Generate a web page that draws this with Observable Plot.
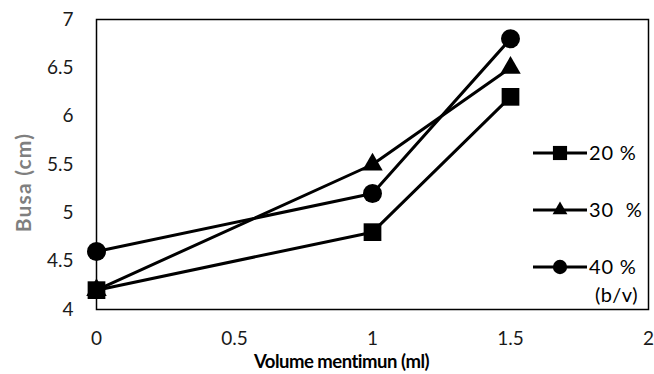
<!DOCTYPE html>
<html><head><meta charset="utf-8">
<script src="https://cdn.jsdelivr.net/npm/d3@7"></script>
<script src="https://cdn.jsdelivr.net/npm/@observablehq/plot@0.6"></script>
<style>
body{margin:0;background:#fff;}
#chart{position:relative;width:654px;height:374px;font-family:Lato,"Open Sans",sans-serif;}
#legend{position:absolute;left:0;top:0;pointer-events:none;}
</style></head><body><div id="chart"></div>
<script>
const volume = [0, 1, 1.5];
const seriesNames = ["20 %", "30  %", "40 %"];
const busa20 = [4.2, 4.8, 6.2];
const busa30 = [4.2, 5.5, 6.5];
const busa40 = [4.6, 5.2, 6.8];
const yTicks = [4, 4.5, 5, 5.5, 6, 6.5, 7];
const xTicks = [0, 0.5, 1, 1.5, 2];
const symbols = ["square", "triangle", "circle"];
const legendNote = "(b/v)";

const seriesValues = [busa20, busa30, busa40];
const rows = seriesValues.flatMap((vals, i) =>
  vals.map((v, j) => ({series: seriesNames[i], volume: volume[j], busa: v})));

const markerR = {square: 10, triangle: 7.6, circle: 9.5};

const plot = Plot.plot({
  width: 654, height: 374,
  marginLeft: 96, marginRight: 6, marginTop: 19, marginBottom: 65,
  style: {fontFamily: "Lato, 'Open Sans', sans-serif", fontSize: "19px", background: "#fff", color: "#000"},
  x: {domain: [0, 2]},
  y: {domain: [4, 7]},
  marks: [
    Plot.axisX({ticks: xTicks, tickSize: 0, tickPadding: 22, label: null, fill: "#1a1a1a", fontSize: 19, tickFormat: d => String(d)}),
    Plot.axisY({ticks: yTicks, tickSize: 0, tickPadding: 23, label: null, fill: "#1a1a1a", fontSize: 19, tickFormat: d => String(d)}),
    Plot.line(rows, {x: "volume", y: "busa", z: "series", stroke: "#000", strokeWidth: 3}),
    ...seriesNames.map((name, i) => Plot.dot(rows.filter(d => d.series === name), {
      x: "volume", y: "busa", symbol: () => symbols[i], fill: "#000", stroke: "none", r: markerR[symbols[i]]
    })),
    Plot.frame({stroke: "#000", strokeWidth: 1.5}),
    Plot.text(["Busa (cm)"], {frameAnchor: "left", rotate: -90, textAnchor: "middle", lineAnchor: "middle", dx: -72, dy: 18, fill: "#7f7f7f", fontWeight: "bold", fontSize: 21}),
    Plot.text(["Volume mentimun (ml)"], {frameAnchor: "bottom", textAnchor: "middle", lineAnchor: "middle", dx: -31, dy: 53, fill: "#000", fontWeight: "bold", fontSize: 18.5})
  ]
});
const chart = document.getElementById("chart");
chart.appendChild(plot);
d3.select(plot).selectAll("text").filter(function(){ return this.textContent === "Busa (cm)"; }).style("letter-spacing", "1.2px");
d3.select(plot).selectAll("text").filter(function(){ return this.textContent === "Volume mentimun (ml)"; }).style("letter-spacing", "-0.5px");

// legend overlay
const leg = d3.select(chart).append("svg").attr("id", "legend").attr("width", 654).attr("height", 374);
const legTop = 153, legStep = 57, lineX0 = 533, lineX1 = 587, textX = 589;
const legSym = {square: d3.symbolSquare, triangle: d3.symbolTriangle, circle: d3.symbolCircle};
const legSize = {square: 200, triangle: 95, circle: 160};
seriesNames.forEach((name, i) => {
  const y = legTop + i * legStep;
  const g = leg.append("g");
  g.append("line").attr("x1", lineX0).attr("x2", lineX1).attr("y1", y).attr("y2", y).attr("stroke", "#000").attr("stroke-width", 3);
  g.append("path").attr("transform", `translate(${(lineX0 + lineX1) / 2},${y})`)
    .attr("d", d3.symbol(legSym[symbols[i]], legSize[symbols[i]])()).attr("fill", "#000");
  g.append("text").attr("x", textX).attr("y", y).attr("dy", "0.35em").attr("font-size", 20)
    .attr("font-family", "Lato, 'Open Sans', sans-serif").attr("fill", "#000").style("white-space", "pre").style("letter-spacing", "0.8px").text(name);
});
leg.append("text").attr("x", 638).attr("y", legTop + 2 * legStep + 28).attr("dy", "0.35em").attr("text-anchor", "end")
  .attr("font-size", 20).attr("font-family", "Lato, 'Open Sans', sans-serif").attr("fill", "#000").style("letter-spacing", "0.5px").text(legendNote);
</script>
</body></html>
